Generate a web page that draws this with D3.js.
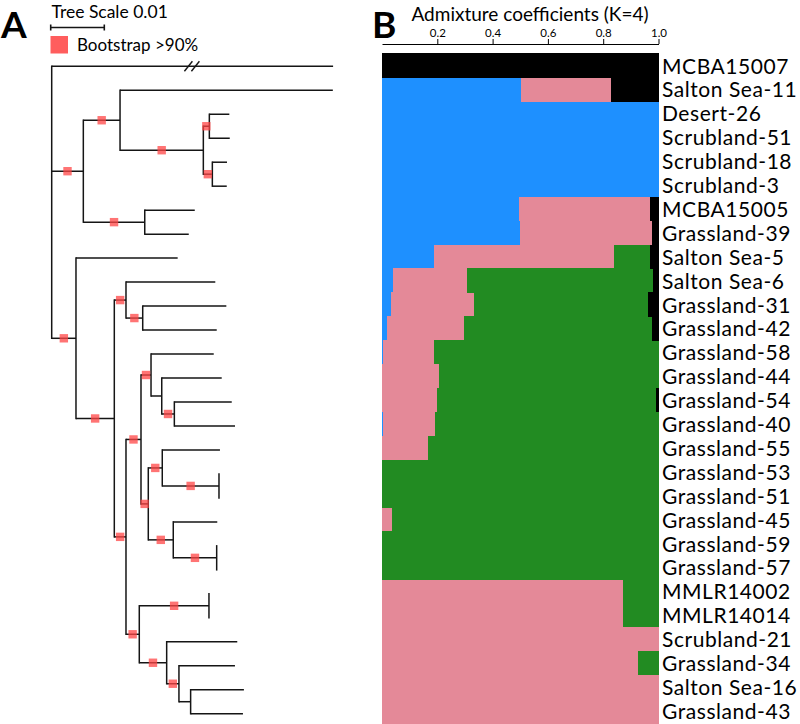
<!DOCTYPE html>
<html>
<head>
<meta charset="utf-8">
<script src="https://cdn.jsdelivr.net/npm/d3@7"></script>
<style>
  html, body { margin: 0; padding: 0; background: #fff; }
  svg { display: block; }
  text { font-family: Lato, "Noto Sans", sans-serif; fill: #000; }
</style>
</head>
<body>
<svg id="chart" width="800" height="724"></svg>
<script>
// ---------------- DATA ----------------
const sampleLabels = [
  "MCBA15007", "Salton Sea-11", "Desert-26", "Scrubland-51", "Scrubland-18", "Scrubland-3",
  "MCBA15005", "Grassland-39", "Salton Sea-5", "Salton Sea-6", "Grassland-31", "Grassland-42",
  "Grassland-58", "Grassland-44", "Grassland-54", "Grassland-40", "Grassland-55", "Grassland-53",
  "Grassland-51", "Grassland-45", "Grassland-59", "Grassland-57", "MMLR14002", "MMLR14014",
  "Scrubland-21", "Grassland-34", "Salton Sea-16", "Grassland-43"
];
// Admixture coefficients (K=4), one array per ancestral cluster
const clusterBlue  = [0, 0.503, 1, 1, 1, 1, 0.496, 0.500, 0.189, 0.040, 0.034, 0.018, 0.002, 0, 0, 0.005, 0, 0, 0, 0, 0, 0, 0, 0, 0, 0, 0, 0];
const clusterPink  = [0, 0.325, 0, 0, 0, 0, 0.475, 0.477, 0.651, 0.267, 0.298, 0.279, 0.186, 0.207, 0.198, 0.186, 0.166, 0, 0, 0.036, 0, 0, 0.872, 0.872, 1, 0.925, 1, 1];
const clusterGreen = [0, 0, 0, 0, 0, 0, 0, 0, 0.131, 0.672, 0.631, 0.680, 0.812, 0.793, 0.792, 0.809, 0.834, 1, 1, 0.964, 1, 1, 0.128, 0.128, 0, 0.075, 0, 0];
const clusterBlack = [1, 0.172, 0, 0, 0, 0, 0.029, 0.023, 0.029, 0.021, 0.037, 0.023, 0, 0, 0.010, 0, 0, 0, 0, 0, 0, 0, 0, 0, 0, 0, 0, 0];
const clusterKeys = ["blue", "pink", "green", "black"];
const clusterColors = ["#1E90FF", "#E48998", "#228B22", "#000000"];
const axisTicks = [0.2, 0.4, 0.6, 0.8, 1.0];

// Phylogeny (preorder): node id, parent id, branch length (substitutions/site), bootstrap > 90%
const treeNodeIds = [
  "root",
  "MCBA15007",
  "n1", "n2", "Salton Sea-11", "n3", "n4", "Desert-26", "Scrubland-51", "n5", "Scrubland-18", "Scrubland-3",
  "n6", "MCBA15005", "Grassland-39",
  "n7", "Salton Sea-5", "n8", "n9", "Salton Sea-6", "n10", "Grassland-31", "Grassland-42",
  "n11", "n12", "n13", "Grassland-58", "n14", "Grassland-44", "n15", "Grassland-54", "Grassland-40",
  "n16", "n17", "Grassland-55", "n18", "Grassland-53", "Grassland-51",
  "n19", "Grassland-45", "n20", "Grassland-59", "Grassland-57",
  "n21", "n22", "MMLR14002", "MMLR14014", "n23", "Scrubland-21", "n24", "Grassland-34", "n25", "Salton Sea-16", "Grassland-43"
];
const treeParentIds = [
  null,
  "root",
  "root", "n1", "n2", "n2", "n3", "n4", "n4", "n3", "n5", "n5",
  "n1", "n6", "n6",
  "root", "n7", "n7", "n8", "n9", "n9", "n10", "n10",
  "n8", "n11", "n12", "n13", "n13", "n14", "n14", "n15", "n15",
  "n12", "n16", "n17", "n17", "n18", "n18",
  "n16", "n19", "n19", "n20", "n20",
  "n11", "n21", "n22", "n22", "n21", "n23", "n23", "n24", "n24", "n25", "n25"
];
const treeBranchLengths = [
  0,
  0.0525,
  0.0059, 0.00685, 0.0397, 0.01554, 0.00112, 0.00373, 0.00381, 0.00168, 0.00274, 0.00269,
  0.01146, 0.00933, 0.00821,
  0.00453, 0.01897, 0.00715, 0.00218, 0.01666, 0.00312, 0.0156, 0.01381,
  0.00218, 0.0028, 0.00187, 0.0117, 0.002, 0.01119, 0.00235, 0.01071, 0.01132,
  0.00136, 0.00261, 0.01076, 0.01058, 0, 0,
  0.00466, 0.00821, 0.0081, 0, 0,
  0.00248, 0.013, 0, 0, 0.00511, 0.01317, 0.00229, 0.01045, 0.00218, 0.00994, 0.00976
];
const treeBootstrap = [
  0,
  0,
  1, 1, 0, 1, 1, 0, 0, 1, 0, 0,
  1, 0, 0,
  1, 0, 1, 1, 0, 1, 0, 0,
  1, 1, 1, 0, 0, 0, 1, 0, 0,
  1, 1, 0, 1, 0, 0,
  1, 0, 1, 0, 0,
  1, 1, 0, 0, 1, 0, 1, 0, 0, 0, 0
];
const brokenBranches = ["MCBA15007"];
const treeScaleValue = 0.01;

// ---------------- LAYOUT ----------------
const svg = d3.select("#chart");
const fontMain = "Lato, 'Noto Sans', sans-serif";

const rowScale = d3.scaleBand()
  .domain(sampleLabels)
  .range([53.3, 53.3 + 23.9 * sampleLabels.length])
  .padding(0);
const leafScale = d3.scalePoint().domain(sampleLabels).range([66.3, 713.7]);

const xAdm = d3.scaleLinear().domain([0, 1]).range([382, 658.5]);
const treeX = d3.scaleLinear().domain([0, treeScaleValue]).range([51.7, 51.7 + 53.6]);

// ---------------- PANEL LETTERS ----------------
svg.append("text").attr("x", 1).attr("y", 37.5)
  .style("font-size", "37px").style("font-weight", 700).text("A");
svg.append("text").attr("x", 372).attr("y", 37.5)
  .style("font-size", "37px").style("font-weight", 700).text("B");

// ---------------- PANEL B: ADMIXTURE ----------------
const admRows = sampleLabels.map((s, i) => ({
  sample: s, blue: clusterBlue[i], pink: clusterPink[i], green: clusterGreen[i], black: clusterBlack[i]
}));
const stacked = d3.stack().keys(clusterKeys)(admRows);
const colorScale = d3.scaleOrdinal().domain(clusterKeys).range(clusterColors);

const gBars = svg.append("g");
gBars.selectAll("g.layer").data(stacked).join("g")
  .attr("class", "layer")
  .attr("fill", d => colorScale(d.key))
  .selectAll("rect").data(d => d).join("rect")
  .attr("x", d => xAdm(d[0]))
  .attr("y", d => rowScale(d.data.sample))
  .attr("width", d => Math.max(0, xAdm(d[1]) - xAdm(d[0])))
  .attr("height", d => rowScale.bandwidth() + (d.data.sample === sampleLabels[sampleLabels.length - 1] ? 2 : 0.4))
  .attr("shape-rendering", "crispEdges");

// axis on top
const axisG = svg.append("g").attr("transform", "translate(0,44)")
  .call(d3.axisTop(xAdm).tickValues(axisTicks).tickFormat(d3.format(".1f")).tickSizeInner(5).tickSizeOuter(0));
axisG.select(".domain").attr("stroke", "#000").attr("stroke-width", 1);
axisG.selectAll(".tick line").attr("stroke", "#000");
axisG.selectAll(".tick text").attr("font-family", fontMain).attr("font-size", 11.5).attr("dy", "0").attr("y", -7);

svg.append("text").attr("x", 530).attr("y", 21).attr("text-anchor", "middle")
  .style("font-size", "19px").text("Admixture coefficients (K=4)");

// sample labels
svg.append("g").selectAll("text").data(sampleLabels).join("text")
  .attr("x", 662)
  .attr("y", d => rowScale(d) + rowScale.bandwidth() / 2 + 8.3)
  .style("font-size", "21px")
  .style("letter-spacing", "0.55px")
  .text(d => d);

// ---------------- PANEL A: TREE ----------------
const treeTable = treeNodeIds.map((id, i) => ({
  id, parentId: treeParentIds[i], length: treeBranchLengths[i], boot: treeBootstrap[i]
}));
const root = d3.stratify().id(d => d.id).parentId(d => d.parentId)(treeTable);
root.eachBefore(n => { n.dist = n.parent ? n.parent.dist + n.data.length : 0; });
root.eachAfter(n => {
  if (n.children) {
    n.yPos = (n.children[0].yPos + n.children[n.children.length - 1].yPos) / 2;
  } else {
    n.yPos = leafScale(n.id);
  }
});
const gTree = svg.append("g").attr("fill", "none").attr("stroke", "#151515").attr("stroke-width", 1.5);
// horizontal branches
gTree.selectAll("path.h").data(root.descendants().filter(n => n.parent)).join("path")
  .attr("class", "h")
  .attr("d", n => `M${treeX(n.parent.dist)},${n.yPos}H${treeX(n.dist)}`);
// vertical connectors
gTree.selectAll("path.v").data(root.descendants().filter(n => n.children)).join("path")
  .attr("class", "v")
  .attr("d", n => `M${treeX(n.dist)},${n.children[0].yPos - 0.75}V${n.children[n.children.length - 1].yPos + 0.75}`);

// break marks
root.descendants().filter(n => brokenBranches.includes(n.id)).forEach(n => {
  const mx = (treeX(n.parent.dist) + treeX(n.dist)) / 2;
  [-4, 3].forEach(off => {
    gTree.append("path")
      .attr("d", `M${mx + off - 4},${n.yPos + 5}L${mx + off + 4},${n.yPos - 5}`)
      .attr("stroke-width", 1.4);
  });
});

// bootstrap squares
svg.append("g").selectAll("rect").data(root.descendants().filter(n => n.parent && n.data.boot)).join("rect")
  .attr("x", n => (treeX(n.parent.dist) + treeX(n.dist)) / 2 - 4.2)
  .attr("y", n => n.yPos - 4.2)
  .attr("width", 8.4).attr("height", 8.4)
  .attr("fill", "#FF4545").attr("fill-opacity", 0.75);

// tree scale legend
const sbY = 27.5;
const sbX0 = treeX(0) - 1, sbX1 = treeX(treeScaleValue) - 1;
const gScale = svg.append("g").attr("stroke", "#151515").attr("stroke-width", 1.6);
gScale.append("line").attr("x1", sbX0).attr("x2", sbX1).attr("y1", sbY).attr("y2", sbY);
gScale.append("line").attr("x1", sbX0).attr("x2", sbX0).attr("y1", sbY - 3).attr("y2", sbY + 3);
gScale.append("line").attr("x1", sbX1).attr("x2", sbX1).attr("y1", sbY - 3).attr("y2", sbY + 3);
svg.append("text").attr("x", 51.5).attr("y", 18).style("font-size", "17.5px").text("Tree Scale " + treeScaleValue);

svg.append("rect").attr("x", 50.5).attr("y", 36).attr("width", 17.5).attr("height", 17.5)
  .attr("fill", "#FF4B4B").attr("fill-opacity", 0.9);
svg.append("text").attr("x", 77).attr("y", 51).style("font-size", "17px").text("Bootstrap >90%");
</script>
</body>
</html>
